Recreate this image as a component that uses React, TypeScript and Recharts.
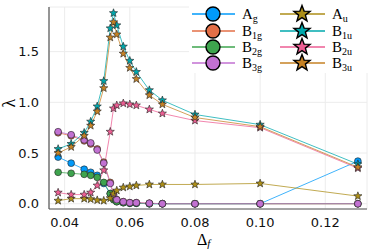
import React from 'react';
import { CartesianGrid, Line, LineChart, XAxis, YAxis } from 'recharts';

const DELTA_F = [0.038, 0.042, 0.046, 0.048, 0.05, 0.052, 0.054, 0.055, 0.056, 0.058, 0.06, 0.062, 0.066, 0.07, 0.08, 0.1, 0.13];

const A_G = [0.46, 0.4, 0.34, 0.31, 0.28, 0.2, 0.1, 0.05, 0.02, 0.01, 0.005, 0.005, 0, 0, 0, 0, 0.42];
const B1_G = [0.7, 0.67, 0.62, 0.59, 0.54, 0.41, 0.21, 0.09, 0.04, 0.02, 0.01, 0.01, 0.005, 0, 0, 0, 0];
const B2_G = [0.31, 0.3, 0.29, 0.28, 0.26, 0.21, 0.1, 0.04, 0.02, 0.01, 0.005, 0.005, 0, 0, 0, 0, 0];
const B3_G = [0.71, 0.68, 0.63, 0.6, 0.53, 0.4, 0.2, 0.08, 0.04, 0.02, 0.01, 0.01, 0.005, 0, 0, 0, 0];
const A_U = [0.03, 0.05, 0.05, 0.045, 0.035, 0.03, 0.055, 0.1, 0.13, 0.16, 0.17, 0.18, 0.19, 0.19, 0.19, 0.2, 0.075];
const B1_U = [0.54, 0.59, 0.7, 0.81, 0.96, 1.21, 1.73, 1.88, 1.76, 1.55, 1.41, 1.3, 1.12, 1.02, 0.88, 0.78, 0.39];
const B2_U = [0.11, 0.09, 0.09, 0.11, 0.18, 0.33, 0.71, 0.94, 0.97, 0.99, 0.98, 0.97, 0.93, 0.89, 0.82, 0.75, 0.35];
const B3_U = [0.5, 0.56, 0.67, 0.77, 0.91, 1.14, 1.64, 1.79, 1.67, 1.48, 1.34, 1.23, 1.07, 0.98, 0.85, 0.76, 0.36];

const X_TICKS = [0.04, 0.06, 0.08, 0.1, 0.12];
const Y_TICKS = [0, 0.5, 1, 1.5];

type Series = { key: string; base: string; sub: string; color: string; values: number[]; star: boolean };

const SERIES: Series[] = [
  { key: 'Ag', base: 'A', sub: 'g', color: '#009AFA', values: A_G, star: false },
  { key: 'B1g', base: 'B', sub: '1g', color: '#E36F47', values: B1_G, star: false },
  { key: 'B2g', base: 'B', sub: '2g', color: '#3EA44E', values: B2_G, star: false },
  { key: 'B3g', base: 'B', sub: '3g', color: '#C271D2', values: B3_G, star: false },
  { key: 'Au', base: 'A', sub: 'u', color: '#AC8E18', values: A_U, star: true },
  { key: 'B1u', base: 'B', sub: '1u', color: '#00A9AD', values: B1_U, star: true },
  { key: 'B2u', base: 'B', sub: '2u', color: '#ED5E93', values: B2_U, star: true },
  { key: 'B3u', base: 'B', sub: '3u', color: '#C68225', values: B3_U, star: true },
];

const data = DELTA_F.map((x, i) => {
  const row: Record<string, number> = { x };
  SERIES.forEach((s) => {
    row[s.key] = s.values[i];
  });
  return row;
});

const SERIF = "'Liberation Serif', 'DejaVu Serif', serif";

function starPath(cx: number, cy: number, R: number) {
  const r = R * 0.42;
  let d = '';
  for (let k = 0; k < 10; k++) {
    const a = (-90 + k * 36) * (Math.PI / 180);
    const rad = k % 2 === 0 ? R : r;
    d += `${k === 0 ? 'M' : 'L'}${(cx + rad * Math.cos(a)).toFixed(2)},${(cy + rad * Math.sin(a)).toFixed(2)}`;
  }
  return d + 'Z';
}

function makeDot(color: string, star: boolean) {
  return (props: any) => {
    const { cx, cy, index } = props;
    if (cx == null || cy == null) return <g key={index} />;
    return star ? (
      <path key={index} d={starPath(cx, cy, 4.3)} fill={color} stroke="#222" strokeWidth={0.6} />
    ) : (
      <circle key={index} cx={cx} cy={cy} r={3.4} fill={color} stroke="#222" strokeWidth={0.6} />
    );
  };
}

// legend + axis titles drawn on top of the chart
function Overlay() {
  const rowY = [14, 31, 47, 63];
  const cols = [
    { x0: 192, x1: 235, mx: 213, tx: 242 },
    { x0: 280, x1: 325, mx: 302, tx: 332 },
  ];
  return (
    <svg width={374} height={249} style={{ position: 'absolute', left: 0, top: 0, pointerEvents: 'none' }}>
      <rect x={189} y={1} width={183} height={72} fill="#fff" />
      {SERIES.map((s, i) => {
        const c = cols[i < 4 ? 0 : 1];
        const y = rowY[i % 4];
        return (
          <g key={s.key}>
            <line x1={c.x0} x2={c.x1} y1={y} y2={y} stroke={s.color} strokeWidth={1.3} />
            {s.star ? (
              <path d={starPath(c.mx, y, 8.5)} fill={s.color} stroke="#000" strokeWidth={1.4} />
            ) : (
              <circle cx={c.mx} cy={y} r={7} fill={s.color} stroke="#000" strokeWidth={1.4} />
            )}
            <text x={c.tx} y={y + 4.5} fontFamily={SERIF} fontSize={15} fill="#000">
              {s.base}
              <tspan fontSize={10} dy={3.5}>{s.sub}</tspan>
            </text>
          </g>
        );
      })}
      <text x={15} y={103} fontFamily={SERIF} fontSize={18} fill="#000" textAnchor="middle" transform="rotate(-90 15 103)">
        λ
      </text>
      <text x={197} y={245} fontFamily={SERIF} fontSize={16} fill="#000">
        Δ
        <tspan fontSize={11} fontStyle="italic" dy={2}>f</tspan>
      </text>
    </svg>
  );
}

export default function App() {
  const tickStyle = { fontFamily: "'DejaVu Sans', sans-serif", fontSize: 13, fill: '#111' };
  return (
    <div style={{ position: 'absolute', left: 0, top: 0, width: 374, height: 249, background: '#fff' }}>
      <LineChart width={374} height={249} data={data} margin={{ top: 7, right: 7, left: 0, bottom: 0 }}>
        <CartesianGrid stroke="#ececec" strokeWidth={1} />
        <XAxis
          dataKey="x"
          type="number"
          domain={[0.0352, 0.1328]}
          ticks={X_TICKS}
          tickFormatter={(v: number) => v.toFixed(2)}
          allowDataOverflow
          height={40}
          tickLine={false}
          tickMargin={3}
          axisLine={{ stroke: '#555', strokeWidth: 1.2 }}
          tick={tickStyle}
        />
        <YAxis
          type="number"
          domain={[-0.052, 1.94]}
          ticks={Y_TICKS}
          tickFormatter={(v: number) => v.toFixed(1)}
          allowDataOverflow
          width={49}
          tickLine={false}
          tickMargin={4}
          axisLine={{ stroke: '#555', strokeWidth: 1.2 }}
          tick={tickStyle}
        />
        {SERIES.map((s) => (
          <Line
            key={s.key}
            dataKey={s.key}
            type="linear"
            stroke={s.color}
            strokeWidth={1}
            strokeOpacity={0.75}
            dot={makeDot(s.color, s.star)}
            activeDot={false}
            isAnimationActive={false}
          />
        ))}
      </LineChart>
      <Overlay />
    </div>
  );
}
